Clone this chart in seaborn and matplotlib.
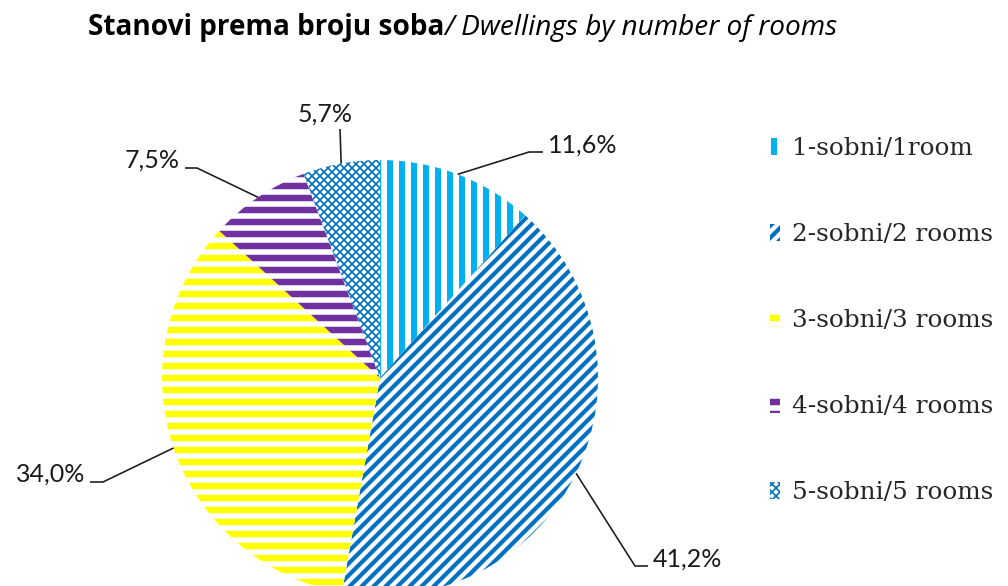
import numpy as np
import matplotlib
matplotlib.use('Agg')
import matplotlib.pyplot as plt
from matplotlib.patches import Patch
import seaborn as sns

# data
categories = ['1-sobni/1room', '2-sobni/2 rooms', '3-sobni/3 rooms',
              '4-sobni/4 rooms', '5-sobni/5 rooms']
shares = [11.6, 41.2, 34.0, 7.5, 5.7]
pct_labels = ['11,6%', '41,2%', '34,0%', '7,5%', '5,7%']

# style
colors = ['#00B0F0', '#0070C0', '#FFFF00', '#7030A0', '#0070C0']
hatches = ['|', '//', '-', '-', 'xxx']
hatch_lw = [6, 4.2, 6.5, 6.5, 1.7]

sns.set_theme(style='white')
plt.rcParams['font.family'] = ['Lato', 'DejaVu Sans']


def with_hatch_lw(artist, lw):
    # hatch linewidth is read from rcParams when the artist is drawn
    orig = artist.draw

    def draw(renderer, _orig=orig, _lw=lw):
        with plt.rc_context({'hatch.linewidth': _lw}):
            _orig(renderer)
    artist.draw = draw
    if hasattr(artist, 'set_hatch_linewidth'):
        artist.set_hatch_linewidth(lw)


W, H = 1008, 586
fig = plt.figure(figsize=(W / 72, H / 72), dpi=72)
ax = fig.add_axes([0, 0, 1, 1])

# pie centre / radius in pixels -> data units with radius 1
cx, cy, R = 380, 378, 218
def px(x, y):
    return (x - cx) / R, (cy - y) / R

wedges, _ = ax.pie(shares, startangle=90, counterclock=False, radius=1,
                   center=(0, 0), frame=True,
                   wedgeprops=dict(linewidth=0))
ax.set_xlim(px(0, 0)[0], px(W, 0)[0])
ax.set_ylim(px(0, H)[1], px(0, 0)[1])
ax.set_aspect('equal')
ax.axis('off')
for w, c, h, lw in zip(wedges, colors, hatches, hatch_lw):
    w.set_facecolor('white')
    w.set_edgecolor(c)
    w.set_hatch(h)
    w.set_linewidth(0)
    with_hatch_lw(w, lw)

# label layout (pixel positions of elbows, line ends and text)
layout = [
    dict(elbow=(529, 152), end=(543, 152), text=(548, 153), ha='left'),
    dict(elbow=(635, 566), end=(648, 566), text=(653, 567), ha='left'),
    dict(elbow=(103, 482), end=(90, 482), text=(85, 482), ha='right'),
    dict(elbow=(197, 168), end=(185, 168), text=(180, 168), ha='right'),
    dict(elbow=None, end=(340, 129), text=(325, 122), ha='center'),
]
for w, lab, lay in zip(wedges, pct_labels, layout):
    mid = np.deg2rad((w.theta1 + w.theta2) / 2)
    pts = [(np.cos(mid), np.sin(mid))]
    if lay['elbow'] is not None:
        pts.append(px(*lay['elbow']))
    pts.append(px(*lay['end']))
    xs, ys = zip(*pts)
    ax.plot(xs, ys, color='#1a1a1a', lw=1.6, solid_capstyle='butt')
    tx, ty = px(*lay['text'])
    ax.text(tx, ty, lab, ha=lay['ha'], va='baseline', fontsize=25,
            color='#1a1a1a')

# title: bold + italic parts
title_font = ['Open Sans', 'DejaVu Sans']
t1 = fig.text(88 / W, 1 - 35 / H, 'Stanovi prema broju soba', fontsize=28,
              family=title_font, fontweight='bold', va='baseline',
              ha='left', color='black')
fig.canvas.draw()
bb = t1.get_window_extent()
fig.text(bb.x1 / W, 1 - 35 / H, '/ Dwellings by number of rooms',
         fontsize=28, family=title_font, fontstyle='italic',
         va='baseline', ha='left', color='black')

# legend
handles = [Patch(facecolor='white', edgecolor=c, hatch=h, linewidth=0)
           for c, h in zip(colors, hatches)]
leg = fig.legend(handles, categories, loc='upper left',
                 bbox_to_anchor=(770 / W, 1 - 137 / H), frameon=False,
                 prop=dict(family='DejaVu Serif', size=24.8),
                 handlelength=0.42, handleheight=0.65, handletextpad=0.45,
                 labelspacing=2.54, borderpad=0, borderaxespad=0)
for p, lw in zip(leg.get_patches(), hatch_lw):
    with_hatch_lw(p, lw)

fig.savefig('out.png', dpi=72, facecolor='white')
